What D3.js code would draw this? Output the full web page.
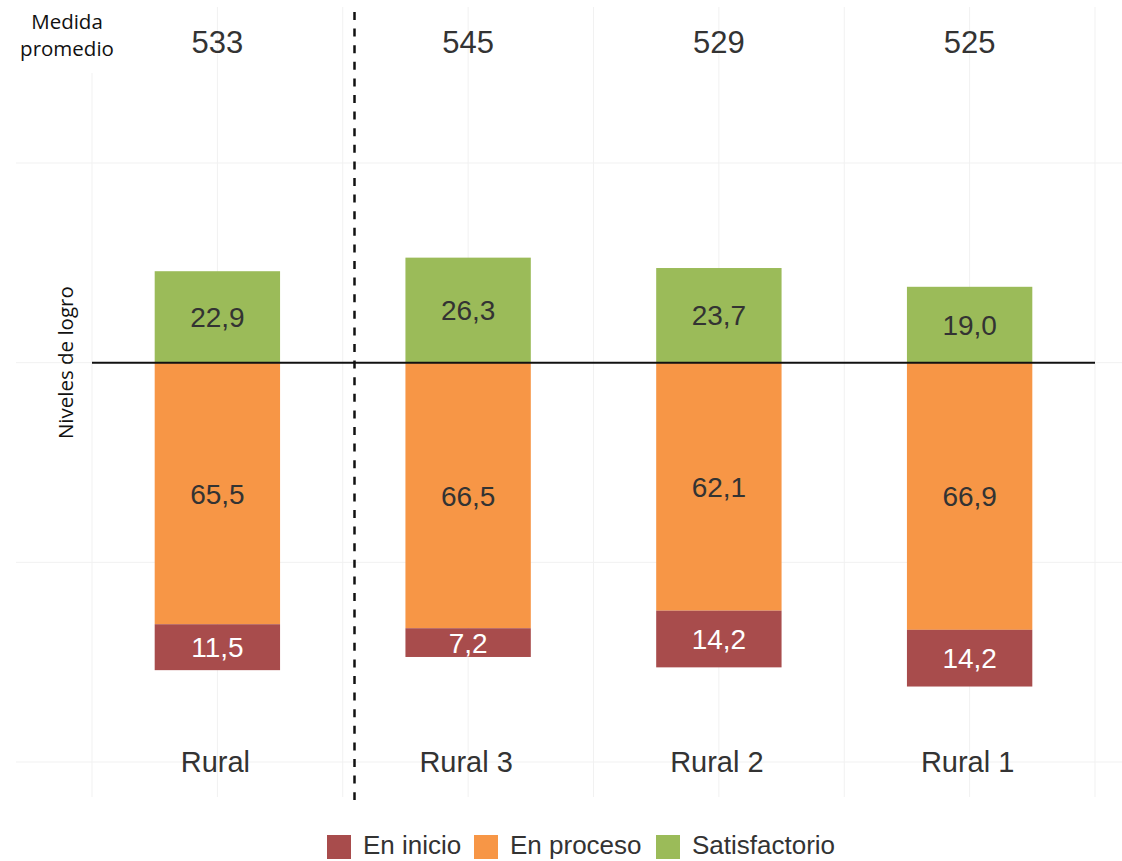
<!DOCTYPE html>
<html><head><meta charset="utf-8">
<script src="https://cdn.jsdelivr.net/npm/d3@7"></script>
<style>body{margin:0;background:#fff}</style>
</head><body>
<svg id="c" width="1122" height="861"></svg>
<script>
const categories = ["Rural", "Rural 3", "Rural 2", "Rural 1"];
const averages = [533, 545, 529, 525];
const satisfactorio = [22.9, 26.3, 23.7, 19.0];
const enProceso = [65.5, 66.5, 62.1, 66.9];
const enInicio = [11.5, 7.2, 14.2, 14.2];
const seriesNames = ["En inicio", "En proceso", "Satisfactorio"];
const colors = ["#a84c4c", "#f79646", "#9bbb59"];
const yTicks = [-100, -50, 0, 50];

const svg = d3.select("#c");
const x = d3.scaleBand().domain(categories).range([92, 1095]).padding(0);
const y = d3.scaleLinear().domain([-100, 50]).range([762, 163]);
const bw = x.bandwidth() * 0.5;
const cx = c => x(c) + x.bandwidth() / 2;

// gridlines
const grid = svg.append("g").attr("stroke", "#f1f1f1").attr("stroke-width", 1);
yTicks.forEach(t => grid.append("line").attr("x1", 16).attr("x2", 1122).attr("y1", y(t)).attr("y2", y(t)));
const vx = [];
categories.forEach(c => { vx.push(x(c)); vx.push(cx(c)); });
vx.push(x.range()[1]);
vx.forEach((v, i) => grid.append("line").attr("x1", v).attr("x2", v).attr("y1", i === 0 ? 73 : 7).attr("y2", 797));

// bars
const rows = categories.map((c, i) => ({ c, s: satisfactorio[i], p: enProceso[i], n: enInicio[i] }));
const g = svg.append("g");
rows.forEach(r => {
  const segs = [
    { y0: 0, y1: r.s, v: r.s, col: colors[2], tc: "#333" },
    { y0: -r.p, y1: 0, v: r.p, col: colors[1], tc: "#333" },
    { y0: -r.p - r.n, y1: -r.p, v: r.n, col: colors[0], tc: "#fff" }
  ];
  segs.forEach(s => {
    g.append("rect").attr("x", cx(r.c) - bw / 2).attr("width", bw)
      .attr("y", y(s.y1)).attr("height", y(s.y0) - y(s.y1)).attr("fill", s.col);
    g.append("text").attr("x", cx(r.c)).attr("y", (y(s.y0) + y(s.y1)) / 2)
      .attr("dy", "0.36em").attr("text-anchor", "middle")
      .attr("font-family", "Liberation Sans, Arial, sans-serif").attr("font-size", 28)
      .attr("fill", s.tc).text(s.v.toFixed(1).replace(".", ","));
  });
});

// baseline
svg.append("line").attr("x1", 92).attr("x2", 1095).attr("y1", y(0)).attr("y2", y(0))
  .attr("stroke", "#111").attr("stroke-width", 2);

// dashed separator
svg.append("line").attr("x1", 354.5).attr("x2", 354.5).attr("y1", 12).attr("y2", 800)
  .attr("stroke", "#111").attr("stroke-width", 2.5).attr("stroke-dasharray", "8,8.6");

// category labels
categories.forEach(c => svg.append("text").attr("x", cx(c) - 2).attr("y", y(-100)).attr("dy", "0.36em")
  .attr("text-anchor", "middle").attr("font-family", "Liberation Sans, Arial, sans-serif")
  .attr("font-size", 29).attr("fill", "#333").text(c));

// averages
categories.forEach((c, i) => svg.append("text").attr("x", cx(c)).attr("y", 53)
  .attr("text-anchor", "middle").attr("font-family", "Liberation Sans, Arial, sans-serif")
  .attr("font-size", 31).attr("fill", "#333").text(averages[i]));

// Medida promedio
const mp = svg.append("text").attr("text-anchor", "middle").attr("font-family", "Open Sans, sans-serif")
  .attr("font-size", 20.5).attr("fill", "#111");
mp.append("tspan").attr("x", 67).attr("y", 29).text("Medida");
mp.append("tspan").attr("x", 67).attr("y", 56).text("promedio");

// y axis title
svg.append("text").attr("transform", `translate(73,${y(0)}) rotate(-90)`).attr("text-anchor", "middle")
  .attr("font-family", "Open Sans, sans-serif").attr("font-size", 20.5).attr("fill", "#111")
  .text("Niveles de logro");

// legend
const legX = [327, 474, 656];
const lg = svg.append("g");
seriesNames.forEach((n, i) => {
  lg.append("rect").attr("x", legX[i]).attr("y", 835).attr("width", 24).attr("height", 24).attr("fill", colors[i]);
  lg.append("text").attr("x", legX[i] + 36).attr("y", 854)
    .attr("font-family", "Liberation Sans, Arial, sans-serif").attr("font-size", 26).attr("fill", "#333").text(n);
});
</script>
</body></html>
